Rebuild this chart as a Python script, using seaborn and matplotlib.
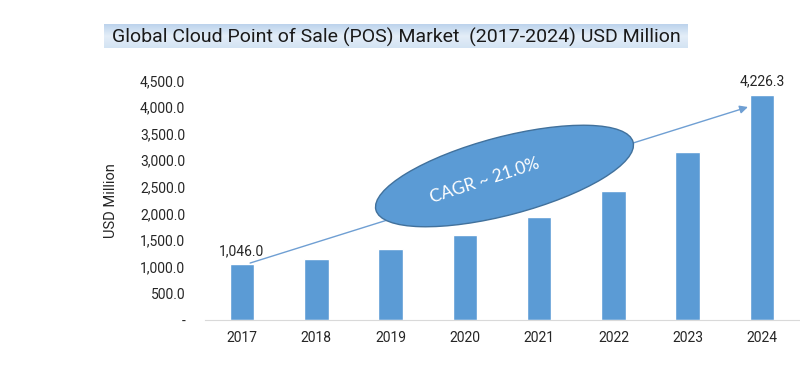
import numpy as np
import pandas as pd
import seaborn as sns
import matplotlib.pyplot as plt
from matplotlib.patches import Ellipse
from matplotlib.colors import LinearSegmentedColormap
from matplotlib.ticker import FuncFormatter

# values (USD Million)
years = ["2017", "2018", "2019", "2020", "2021", "2022", "2023", "2024"]
market = [1046.0, 1146.0, 1339.0, 1591.0, 1929.0, 2417.0, 3150.0, 4226.3]
y_ticks = [0, 500, 1000, 1500, 2000, 2500, 3000, 3500, 4000, 4500]
title = "Global Cloud Point of Sale (POS) Market  (2017-2024) USD Million"
cagr_text = "CAGR ~ 21.0%"

df = pd.DataFrame({"year": years, "value": market})

sns.set_style("white")
plt.rcParams["font.family"] = ["Roboto", "DejaVu Sans"]

fig = plt.figure(figsize=(8, 3.67), dpi=100)
ax = fig.add_axes([0.256, 0.128, 0.743, 0.653])

bar_color = "#5b9bd5"
sns.barplot(data=df, x="year", y="value", color=bar_color, width=0.33,
            saturation=1, ax=ax)

ax.set_xlim(-0.5, 7.5)
ax.set_ylim(0, 4500)
ax.set_yticks(y_ticks)
ax.yaxis.set_major_formatter(FuncFormatter(lambda v, p: "-" if v == 0 else f"{v:,.1f}"))
ax.tick_params(axis="both", length=0, labelsize=10, labelcolor="#262626")
ax.tick_params(axis="y", pad=14)
ax.tick_params(axis="x", pad=8)
ax.set_xlabel("")
ax.set_ylabel("USD Million", fontsize=10.5, color="#262626", labelpad=16)
for s in ["top", "right", "left"]:
    ax.spines[s].set_visible(False)
ax.spines["bottom"].set_color("#d9d9d9")

# first and last value labels
ax.text(0, market[0] + 120, f"{market[0]:,.1f}", ha="center", va="bottom",
        fontsize=10, color="#262626")
ax.text(7, market[-1] + 120, f"{market[-1]:,.1f}", ha="center", va="bottom",
        fontsize=10, color="#262626")

# trend arrow
ax.annotate("", xy=(6.81, 4000), xytext=(0.11, 1070),
            arrowprops=dict(arrowstyle="-|>", color="#6f9fd3", lw=1.0,
                            mutation_scale=12, shrinkA=0, shrinkB=0))

# CAGR ellipse (figure inches)
ell = Ellipse((5.045, 1.91), 2.66, 0.78, angle=14.8, transform=fig.dpi_scale_trans,
              facecolor=bar_color, edgecolor="#41719c", lw=1.0, zorder=5)
fig.add_artist(ell)
fig.text(4.85 / 8, 1.86 / 3.67, cagr_text, rotation=18, ha="center", va="center",
         fontsize=12.5, color="white", family=["Lato", "DejaVu Sans"], zorder=6)

# title with gradient band
tax = fig.add_axes([104 / 800, (367 - 48) / 367, 584 / 800, 24 / 367])
grad = np.linspace(0, 1, 64).reshape(-1, 1)
cmap = LinearSegmentedColormap.from_list("band", ["#bcd3ec", "#e4eef8", "#d3e3f3"])
tax.imshow(grad, aspect="auto", cmap=cmap, extent=[0, 1, 0, 1], origin="upper")
tax.set_xlim(0, 1)
tax.set_ylim(0, 1)
tax.axis("off")
tax.text(0.5, 0.45, title, ha="center", va="center", fontsize=14, color="#1a1a1a",
         transform=tax.transAxes)

fig.savefig("out.png", dpi=100)
